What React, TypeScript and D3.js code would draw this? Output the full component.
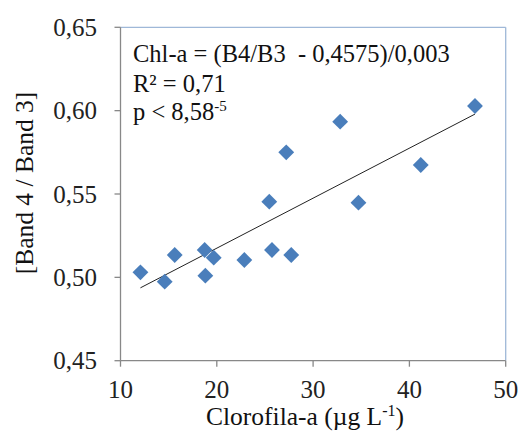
import React from "react";
import * as d3 from "d3";

const chlA = [12.07, 14.59, 15.63, 18.74, 18.81, 19.68, 22.86, 25.73, 27.73, 46.81, 32.81, 27.21, 41.18, 25.45, 34.71];
const bandRatio = [0.503, 0.4974, 0.5134, 0.5164, 0.501, 0.5118, 0.5104, 0.5164, 0.5134, 0.6028, 0.5934, 0.575, 0.5674, 0.5454, 0.5448];
const xTicks = [10, 20, 30, 40, 50];
const yTicks = [0.45, 0.5, 0.55, 0.6, 0.65];
const trendSlope = 0.003;
const trendIntercept = 0.4575;
const annotation = ["Chl-a = (B4/B3  - 0,4575)/0,003", "R² = 0,71", "p < 8,58"];

const W = 518, H = 435;
const L = 120.5, R = 505.7, T = 27.3, B = 360.7;
const serif = { fontFamily: "Liberation Serif" };

export default function App() {
  const x = d3.scaleLinear().domain([10, 50]).range([L, R]);
  const y = d3.scaleLinear().domain([0.45, 0.65]).range([B, T]);
  const xMin = d3.min(chlA) as number;
  const xMax = d3.max(chlA) as number;
  const sym = d3.symbol().type(d3.symbolDiamond2).size(160);
  const fmt = (v: number) => v.toFixed(2).replace(".", ",");
  return (
    <svg width={W} height={H} style={{ position: "absolute", left: 0, top: 0, background: "#fff" }}>
      <rect x={0} y={0} width={W} height={H} fill="#fff" />
      <line x1={L} x2={R} y1={T} y2={T} stroke="#9fb8d8" strokeWidth={1.3} />
      <line x1={R} x2={R} y1={T} y2={B} stroke="#9fb8d8" strokeWidth={1.3} />
      <line x1={L} x2={L} y1={T} y2={B} stroke="#888" strokeWidth={1.3} />
      <line x1={L} x2={R} y1={B} y2={B} stroke="#888" strokeWidth={1.3} />
      {yTicks.map((t) => (
        <g key={"y" + t}>
          <line x1={L - 6} x2={L} y1={y(t)} y2={y(t)} stroke="#888" strokeWidth={1.3} />
          <text x={97} y={y(t)} dy="0.35em" textAnchor="end" fontSize={25} fill="#222" style={serif}>{fmt(t)}</text>
        </g>
      ))}
      {xTicks.map((t) => (
        <g key={"x" + t}>
          <line x1={x(t)} x2={x(t)} y1={B} y2={B + 6} stroke="#888" strokeWidth={1.3} />
          <text x={x(t)} y={398} textAnchor="middle" fontSize={25} fill="#222" style={serif}>{t}</text>
        </g>
      ))}
      <line x1={x(xMin)} y1={y(trendIntercept + trendSlope * xMin)} x2={x(xMax)} y2={y(trendIntercept + trendSlope * xMax)} stroke="#222" strokeWidth={1} />
      {chlA.map((v, i) => (
        <path key={i} d={sym() as string} transform={`translate(${x(v)},${y(bandRatio[i])})`} fill="#4a7ebb" />
      ))}
      <text x={133} y={61.5} fontSize={24.5} fill="#111" style={{ ...serif, whiteSpace: "pre" }}>{annotation[0]}</text>
      <text x={133} y={91.5} fontSize={24.5} fill="#111" style={serif}>{annotation[1]}</text>
      <text x={133} y={120} fontSize={24.5} fill="#111" style={serif}>
        {annotation[2]}
        <tspan dy={-9} fontSize={15}>-5</tspan>
      </text>
      <text x={305} y={425} textAnchor="middle" fontSize={25.5} fill="#111" style={serif}>
        Clorofila-a (µg L<tspan dy={-9} fontSize={16}>-1</tspan><tspan dy={9}>)</tspan>
      </text>
      <text transform={`translate(33,183) rotate(-90)`} textAnchor="middle" fontSize={25.5} fill="#111" style={serif}>[Band 4 / Band 3]</text>
    </svg>
  );
}
